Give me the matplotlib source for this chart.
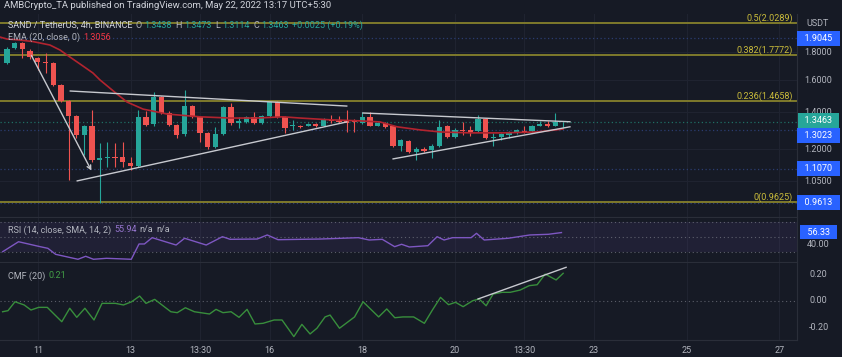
import matplotlib.pyplot as plt
from matplotlib.transforms import IdentityTransform
import numpy as np

plt.rcParams['font.family'] = ['Roboto', 'DejaVu Sans']

BG = '#161a25'
GRID = '#1f2330'
TXT = '#b2b5be'
HEAD = '#d1d4dc'
UP = '#26a69a'
DN = '#ef5350'
FIB = '#7e7a2c'
FIBTXT = '#cbbd3b'
BLUE = '#2962ff'

# SAND/USDT 4h candles, index 0 = first visible candle
opens = [1.719, 1.830, 1.869, 1.808, 1.756, 1.727, 1.719, 1.569, 1.468, 1.379,
         1.274, 1.323, 1.148, 1.158, 1.163, 1.163, 1.134, 1.120, 1.374, 1.334,
         1.492, 1.396, 1.329, 1.280, 1.437, 1.374, 1.285, 1.212, 1.280, 1.431,
         1.340, 1.345, 1.374, 1.340, 1.379, 1.461, 1.374, 1.323, 1.323, 1.323,
         1.334, 1.323, 1.357, 1.351, 1.351, 1.351, 1.340, 1.374, 1.323, 1.340,
         1.323, 1.217, 1.243, 1.187, 1.202, 1.197, 1.217, 1.323, 1.264, 1.301,
         1.301, 1.296, 1.362, 1.259, 1.264, 1.274, 1.285, 1.296, 1.296, 1.323,
         1.334, 1.323, 1.3438]
highs = [1.835, 1.880, 1.880, 1.820, 1.763, 1.793, 1.730, 1.575, 1.472, 1.385,
         1.330, 1.414, 1.233, 1.238, 1.233, 1.238, 1.163, 1.414, 1.410, 1.524,
         1.500, 1.410, 1.335, 1.536, 1.445, 1.380, 1.290, 1.318, 1.440, 1.455,
         1.374, 1.380, 1.400, 1.385, 1.470, 1.470, 1.380, 1.355, 1.330, 1.340,
         1.340, 1.367, 1.385, 1.380, 1.414, 1.360, 1.400, 1.400, 1.345, 1.345,
         1.330, 1.255, 1.250, 1.210, 1.210, 1.225, 1.357, 1.330, 1.310, 1.345,
         1.320, 1.384, 1.370, 1.285, 1.285, 1.295, 1.305, 1.320, 1.330, 1.350,
         1.350, 1.396, 1.3473]
lows = [1.710, 1.820, 1.756, 1.750, 1.670, 1.649, 1.560, 1.460, 1.057, 1.260,
        1.173, 1.140, 0.9613, 1.115, 1.115, 1.115, 1.102, 1.115, 1.320, 1.325,
        1.390, 1.320, 1.259, 1.270, 1.370, 1.238, 1.200, 1.205, 1.275, 1.330,
        1.310, 1.340, 1.335, 1.335, 1.375, 1.370, 1.285, 1.300, 1.310, 1.320,
        1.315, 1.320, 1.340, 1.340, 1.290, 1.290, 1.335, 1.320, 1.320, 1.310,
        1.210, 1.190, 1.180, 1.148, 1.185, 1.158, 1.210, 1.260, 1.260, 1.275,
        1.270, 1.290, 1.255, 1.215, 1.245, 1.260, 1.280, 1.285, 1.290, 1.320,
        1.315, 1.320, 1.3114]
closes = [1.823, 1.869, 1.823, 1.763, 1.727, 1.719, 1.569, 1.468, 1.379, 1.274,
          1.323, 1.148, 1.158, 1.163, 1.158, 1.139, 1.120, 1.374, 1.329, 1.492,
          1.396, 1.329, 1.274, 1.437, 1.374, 1.285, 1.212, 1.280, 1.431, 1.340,
          1.351, 1.374, 1.340, 1.379, 1.461, 1.374, 1.312, 1.329, 1.318, 1.334,
          1.323, 1.362, 1.351, 1.345, 1.340, 1.345, 1.374, 1.323, 1.340, 1.318,
          1.217, 1.248, 1.187, 1.202, 1.192, 1.217, 1.318, 1.264, 1.301, 1.296,
          1.290, 1.362, 1.259, 1.264, 1.280, 1.290, 1.301, 1.290, 1.323, 1.334,
          1.323, 1.345, 1.3463]

ema_x = [-0.9, 0, 1.68, 3.37, 5.57, 6.87, 7.77, 9.84, 11.14, 12.05, 14.25, 15.54,
         17.62, 20.73, 25.0, 28.89, 32.4, 35.75, 37.95, 41.8, 45.7, 48.3, 50.5,
         53.5, 56.1, 60.0, 64.2, 68.65, 72.0]
ema_y = [1.916, 1.900, 1.892, 1.880, 1.853, 1.815, 1.778, 1.698, 1.649, 1.602,
         1.511, 1.4615, 1.419, 1.390, 1.374, 1.367, 1.367, 1.374, 1.367, 1.357,
         1.351, 1.345, 1.318, 1.301, 1.290, 1.285, 1.285, 1.290, 1.3056]

rsi_x = [-0.55, 1.5, 4.3, 5.3, 6.3, 9.2, 10.2, 11.2, 12.9, 16.1, 17.1, 17.8, 18.8,
         21.9, 23.0, 25.8, 27.9, 28.9, 32.4, 33.7, 35.1, 40.6, 45.5, 46.9, 48.6,
         50.2, 51.1, 52.1, 54.5, 55.7, 56.6, 57.7, 60.1, 60.8, 61.8, 64.9, 67.7,
         70.1, 71.8]
rsi_y = [30.4, 43.7, 37.1, 34.9, 26.9, 20.3, 24.3, 20.3, 21.6, 20.3, 40.7, 40.7,
         49.1, 39.3, 48.3, 39.3, 50.4, 46.9, 47.3, 52.7, 46.4, 47.3, 49.1, 46.0,
         46.9, 37.1, 40.3, 36.7, 38.4, 50.4, 46.0, 49.1, 49.1, 54.9, 46.0, 48.3,
         52.7, 53.6, 55.9]

cmf_x = [-0.56, 0.13, 1.04, 2.23, 3.11, 4.11, 5.22, 7.10, 8.13, 9.04, 10.09, 11.27,
         12.31, 14.05, 15.09, 16.14, 17.18, 18.0, 19.13, 21.22, 22.05, 23.1, 24.27,
         26.23, 27.07, 27.97, 29.02, 30.05, 31.09, 32.12, 33.16, 34.59, 35.62,
         37.15, 38.19, 39.25, 40.14, 41.19, 41.84, 43.06, 45.01, 46.11, 48.13,
         49.18, 50.22, 51.27, 52.66, 54.05, 55.09, 56.14, 57.18, 58.08, 59.07,
         60.31, 61.14, 62.05, 62.95, 64.12, 65.16, 66.45, 67.62, 68.65, 69.69,
         71.11, 72.02]
cmf_y = [-0.083, -0.075, -0.008, -0.032, -0.07, -0.05, -0.05, -0.158, -0.057,
         -0.125, -0.057, -0.145, -0.02, -0.02, -0.032, -0.008, 0.035, -0.02, 0.01,
         -0.083, -0.09, -0.053, -0.083, -0.10, -0.065, -0.09, -0.083, -0.125,
         -0.065, -0.175, -0.17, -0.145, -0.145, -0.27, -0.178, -0.25, -0.207,
         -0.122, -0.108, -0.207, -0.122, -0.008, -0.122, -0.062, -0.128, -0.122,
         -0.122, -0.17, -0.07, 0.025, -0.03, -0.012, -0.045, 0.0, 0.013, -0.038,
         0.05, 0.063, 0.063, 0.08, 0.113, 0.12, 0.20, 0.156, 0.206]

fib_levels = [0.5, 0.382, 0.236, 0]
fib_prices = [2.0289, 1.7772, 1.4658, 0.9625]
ray_prices = [1.9045, 1.3023, 1.1070, 0.9613]
last_price = 1.3463
price_ticks = [1.05, 1.2, 1.4, 1.6, 1.8]
day_pos = [4, 16, 25, 34, 46, 58, 67, 76, 88, 100]
day_lbl = ['11', '13', '13:30', '16', '18', '20', '13:30', '23', '25', '27']

# drawn trend lines: (x0, y0, x1, y1)
tri_lines = [(8.2, 1.530, 44.0, 1.437), (9.1, 1.052, 44.0, 1.345),
             (46.1, 1.396, 72.9, 1.346), (50.0, 1.153, 72.9, 1.318)]
arrow_line = (3.0, 1.793, 11.1, 1.087)
cmf_trend = (61.0, 0.013, 72.4, 0.251)

fig = plt.figure(figsize=(8.42, 3.57), dpi=100, facecolor=BG)
W = 797 / 842
ax = fig.add_axes([0, 0.39216, W, 0.56863])
axr = fig.add_axes([0, 0.26611, W, 0.12325], sharex=ax)
axc = fig.add_axes([0, 0.04762, W, 0.21569], sharex=ax)

for a in (ax, axr, axc):
    a.set_facecolor(BG)
    for s in a.spines.values():
        s.set_color('#2a2e39')
        s.set_linewidth(0.8)
    a.spines['left'].set_visible(False)
    a.spines['top'].set_visible(False)
    a.tick_params(length=0, labelleft=False, labelbottom=False, labelright=False)
    a.set_yticks([])
    for d in day_pos:
        a.axvline(d, color=GRID, lw=0.8, zorder=0)

ax.set_xlim(-0.9, 102.3)

# main pane
ax.set_yscale('log')
ax.set_ylim(0.905, 2.109)
ax.minorticks_off()
ax.set_yticks([])
for p in price_ticks:
    ax.axhline(p, color=GRID, lw=0.8, zorder=0)
    ax.text(1.027, p, f'{p:.4f}', transform=ax.get_yaxis_transform(), ha='center',
            va='center', color=TXT, fontsize=6.5)

for p in ray_prices:
    ax.axhline(p, color='#2b3c70', lw=0.9, ls=(0, (1, 2)), zorder=1)
ax.axhline(last_price, color='#1f6e64', lw=0.9, ls=(0, (1, 2)), zorder=1)

for lvl, p in zip(fib_levels, fib_prices):
    ax.axhline(p, color=FIB, lw=1.4, zorder=2)
    ax.text(0.995, p, f'{lvl}({p:.4f})', transform=ax.get_yaxis_transform(),
            ha='right', va='bottom', color=FIBTXT, fontsize=6.5)

o = np.array(opens); h = np.array(highs); l = np.array(lows); c = np.array(closes)
x = np.arange(len(o))
cols = np.where(c >= o, UP, DN)
ax.vlines(x, l, h, colors=cols, lw=0.8, zorder=3)
body = np.maximum(np.abs(c - o), 0.004)
ax.bar(x, body, bottom=np.minimum(o, c), width=0.68, color=cols, zorder=4)

ax.plot(ema_x, ema_y, color='#b2242f', lw=1.2, zorder=5)

for x0, y0, x1, y1 in tri_lines:
    ax.plot([x0, x1], [y0, y1], color='#c7c9cf', lw=1.0, zorder=6)
ax.annotate('', xy=arrow_line[2:], xytext=arrow_line[:2],
            arrowprops=dict(arrowstyle='->', color='#c7c9cf', lw=1.0,
                            mutation_scale=7), zorder=6)

lbl = dict(ha='center', va='center', fontsize=6.5, color='white',
           xycoords=ax.get_yaxis_transform(), textcoords='offset points',
           annotation_clip=False)
for p in ray_prices:
    dy = -4.2 if p == 1.3023 else 0
    ax.annotate(f'  {p:.4f}  ', xy=(1.027, p), xytext=(0, dy),
                bbox=dict(boxstyle='square,pad=0.3', fc=BLUE, ec='none'), **lbl)
ax.annotate(f'  {last_price:.4f}  ', xy=(1.027, last_price), xytext=(0, 1),
            bbox=dict(boxstyle='square,pad=0.3', fc=UP, ec='none'), **lbl)
ax.text(1.012, 0.951, 'USDT', transform=ax.transAxes, ha='left', va='center',
        color=TXT, fontsize=6.5)

# RSI pane
axr.set_ylim(16.67, 75.33)
axr.axhspan(30, 70, color='#7e57c2', alpha=0.1, lw=0)
for v in (70, 50, 30):
    axr.axhline(v, color='#787b86', lw=0.8, ls=(0, (1, 2.5)), alpha=0.7)
axr.plot(rsi_x, rsi_y, color='#7e57c2', lw=1.0)
axr.annotate('  56.33  ', xy=(1.027, 56.33), xytext=(0, 0),
             bbox=dict(boxstyle='square,pad=0.3', fc=BLUE, ec='none'),
             ha='center', va='center', fontsize=6.5, color='white',
             xycoords=axr.get_yaxis_transform(), textcoords='offset points',
             annotation_clip=False)
axr.text(1.027, 40, '40.00', transform=axr.get_yaxis_transform(), ha='center',
         va='center', color=TXT, fontsize=6.5)

# CMF pane
axc.set_ylim(-0.2955, 0.2835)
axc.axhline(0, color='#787b86', lw=0.8, ls=(0, (1, 2.5)), alpha=0.7)
axc.plot(cmf_x, cmf_y, color='#388e3c', lw=1.0)
axc.plot(cmf_trend[0::2], cmf_trend[1::2], color='#c7c9cf', lw=1.0)
for v in (0.2, 0.0, -0.2):
    axc.text(1.027, v, f'{v:.2f}', transform=axc.get_yaxis_transform(),
             ha='center', va='center', color=TXT, fontsize=6.5)

axc.set_xticks(day_pos)
axc.set_xticklabels(day_lbl)
axc.tick_params(labelbottom=True, colors=TXT, labelsize=6.5, pad=4)

# header texts (pixel positions, y from top)
rend = fig.canvas.get_renderer()


def text_run(x, y, parts, size=6.5):
    for s, col in parts:
        t = fig.text(x, 357 - y, s, color=col, fontsize=size, va='center',
                     ha='left', transform=IdentityTransform())
        x = t.get_window_extent(rend).x1 + 3


text_run(4, 6, [('AMBCrypto_TA published on TradingView.com, May 22, 2022 13:17 UTC+5:30', HEAD)], size=6.8)
text_run(8, 25, [('SAND / TetherUS, 4h, BINANCE', HEAD), ('O', TXT), ('1.3438', UP),
                 ('H', TXT), ('1.3473', UP), ('L', TXT), ('1.3114', UP),
                 ('C', TXT), ('1.3463', UP), ('+0.0025 (+0.19%)', UP)])
text_run(8, 37, [('EMA (20, close, 0)', TXT), ('1.3056', '#f23645')])
text_run(8, 230, [('RSI (14, close, SMA, 14, 2)', TXT), ('55.94', '#9575cd'),
                  ('n/a', TXT), ('n/a', TXT)])
text_run(8, 276, [('CMF (20)', TXT), ('0.21', '#43a047')])

fig.savefig('out.png', dpi=100, facecolor=BG)
